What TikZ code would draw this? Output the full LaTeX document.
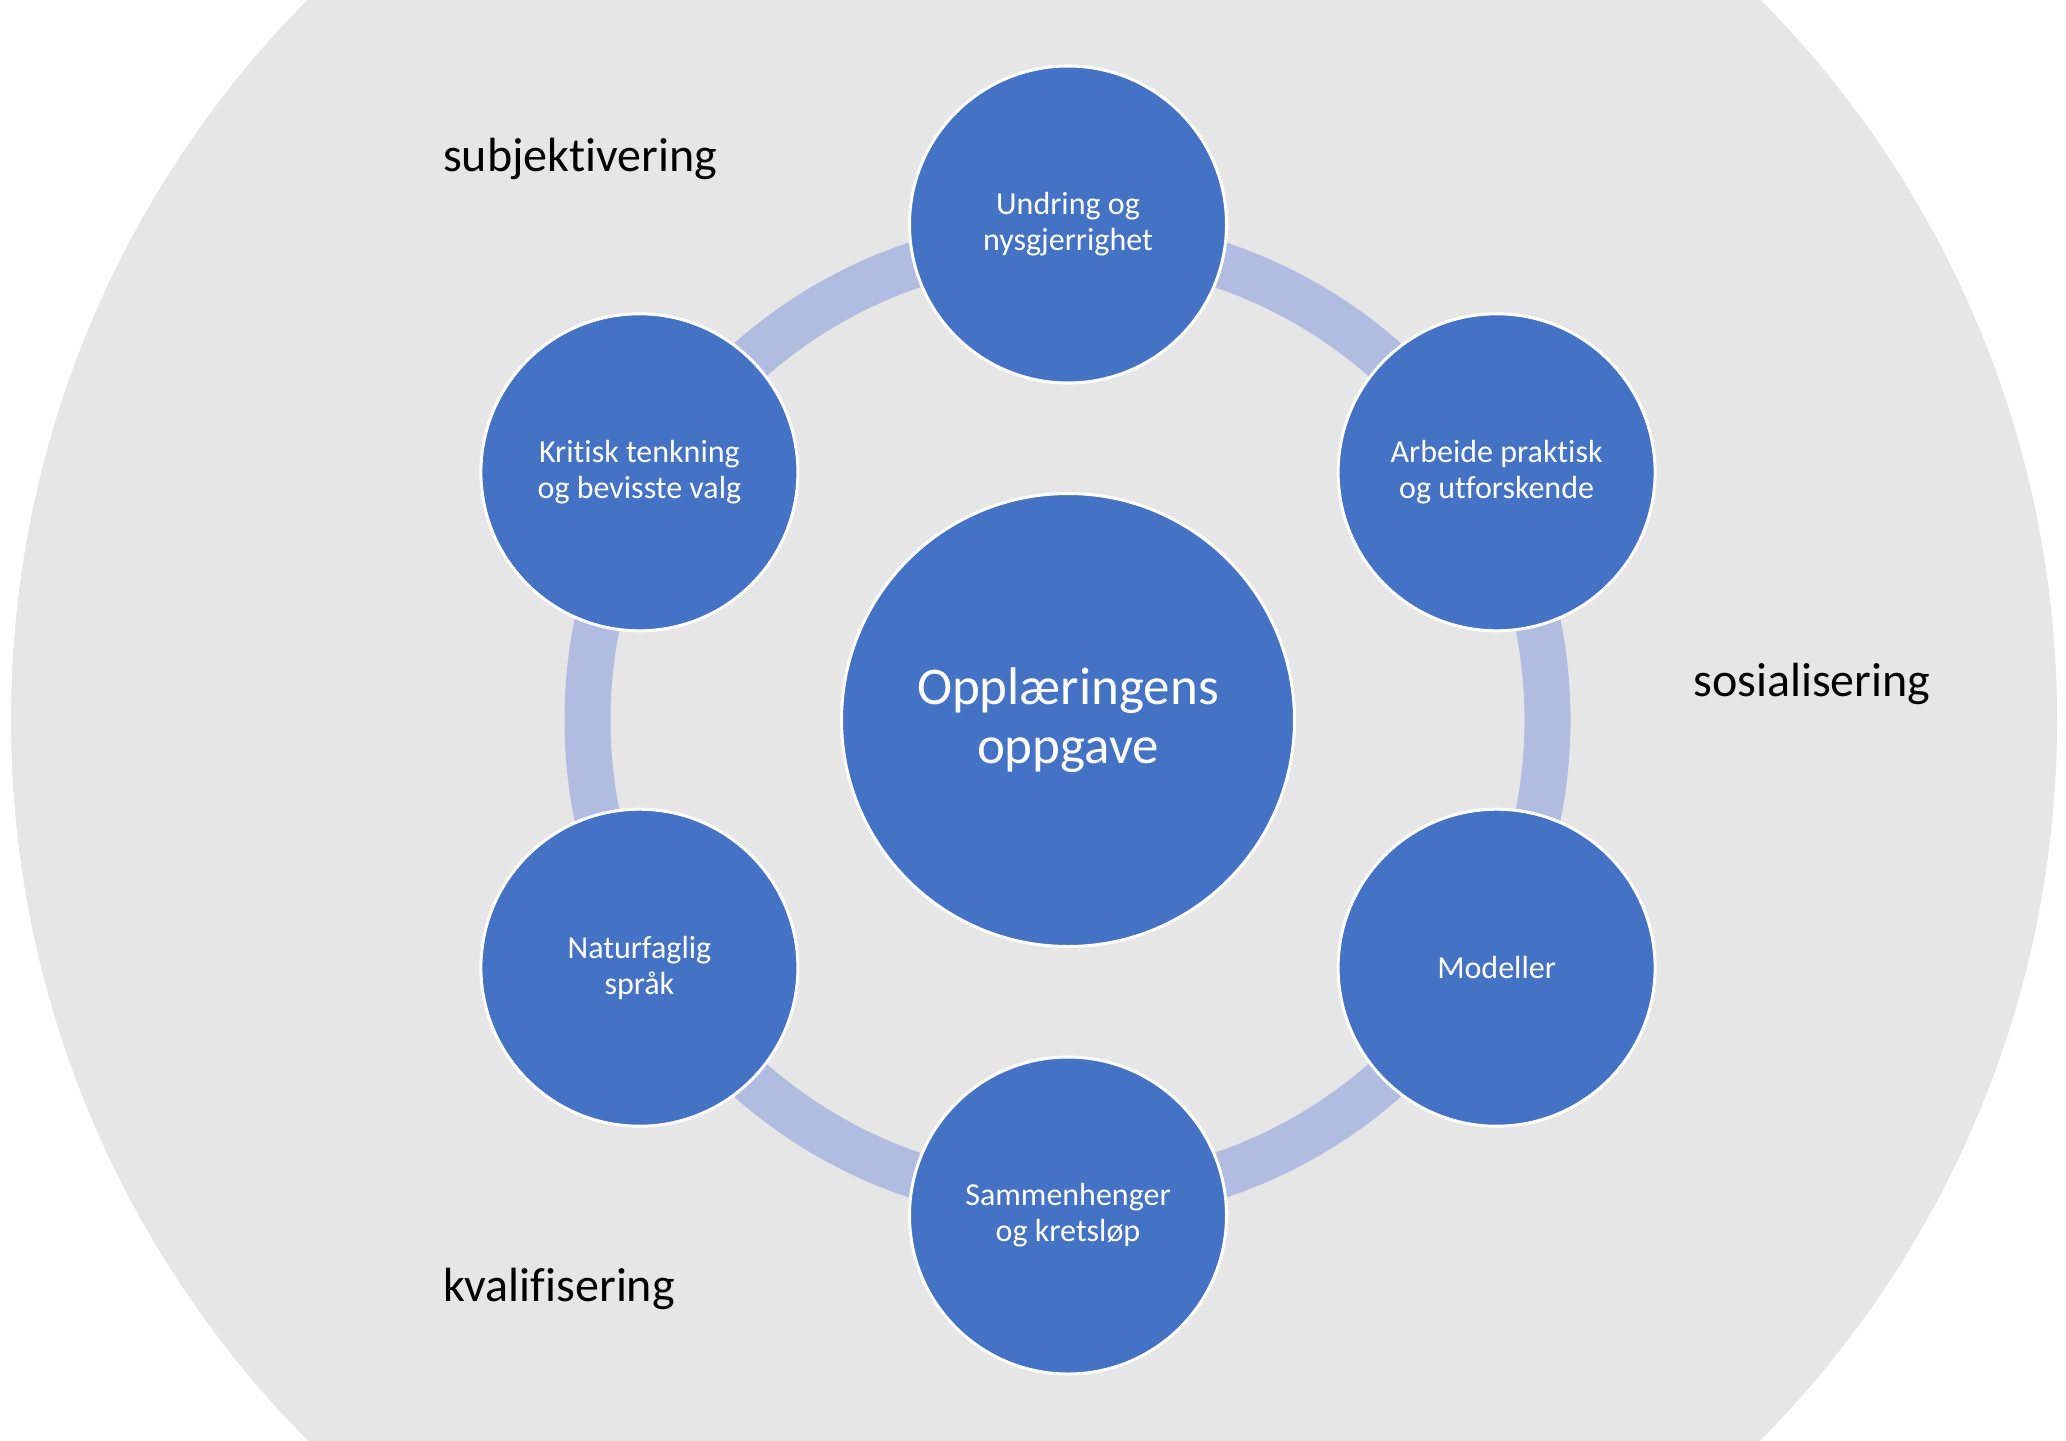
\documentclass[tikz,border=0pt]{standalone}
\usepackage{fontspec}
\setmainfont{Carlito}[Ligatures={NoCommon}]
\definecolor{bgGrey}{HTML}{E7E6E6}
\definecolor{nodeBlue}{HTML}{4472C4}
\definecolor{ringBlue}{RGB}{176,189,224}
\begin{document}
\begin{tikzpicture}[x=0.5pt,y=-0.5pt,
  smallc/.style={circle,fill=nodeBlue,draw=white,line width=1.5pt,minimum size=158.5pt,inner sep=0pt,
    text=white,align=center,font=\fontsize{16}{18}\selectfont},
  bigc/.style={circle,fill=nodeBlue,draw=white,line width=1.5pt,minimum size=226.5pt,inner sep=0pt,
    text=white,align=center,font=\fontsize{26.5}{29.5}\selectfont},
  lab/.style={anchor=base west,inner sep=0pt,text=black,font=\fontsize{24}{28}\selectfont}]
\useasboundingbox (0,0) rectangle (2066,1440);
\fill[white] (0,0) rectangle (2066,1440);
\begin{scope}
\clip (0,0) rectangle (2066,1440);
\fill[bgGrey] (1034,720) circle[radius=511.5pt];
\end{scope}
\coordinate (ctr) at (1067.5,720);
\draw[ringBlue,line width=23pt] (ctr) circle[radius=240pt];
\node[bigc] (main) at (1068,720) {Opplæringens\\oppgave};
\node[smallc] (n1) at (1068,224.5) {Undring og\\nysgjerrighet};
\node[smallc] (n2) at (1496.6,472.3) {Arbeide praktisk\\og utforskende};
\node[smallc] (n3) at (1496.6,967.7) {Modeller};
\node[smallc] (n4) at (1068,1215.5) {Sammenhenger\\og kretsløp};
\node[smallc] (n5) at (639.4,967.7) {Naturfaglig\\språk};
\node[smallc] (n6) at (639.4,472.3) {Kritisk tenkning\\og bevisste valg};
\node[lab] (l1) at (442.7,171) {subjektivering};
\node[lab] (l2) at (1693,696.7) {sosialisering};
\node[lab] (l3) at (442.7,1301.7) {kvalifisering};
\end{tikzpicture}
\end{document}
